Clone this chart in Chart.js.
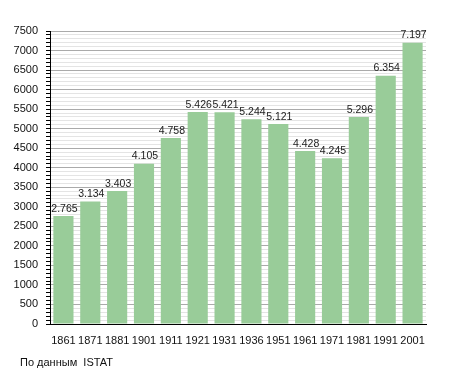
<!DOCTYPE html>
<html>
<head>
<meta charset="utf-8">
<script src="https://cdn.jsdelivr.net/npm/chart.js@4/dist/chart.umd.min.js"></script>
<style>
  body { margin: 0; background: #fff; }
  #wrap { position: relative; width: 455px; height: 373px; }
  #note { position: absolute; left: 20px; top: 356px; font: 11px "Liberation Sans", Arial, sans-serif; color: #111; }
</style>
</head>
<body>
<div id="wrap">
  <canvas id="popChart" width="455" height="373"></canvas>
  <div id="note">По данным&nbsp; ISTAT</div>
</div>
<script>
// Anni dei censimenti e abitanti
const years = ['1861', '1871', '1881', '1901', '1911', '1921', '1931', '1936', '1951', '1961', '1971', '1981', '1991', '2001'];
const population = [2765, 3134, 3403, 4105, 4758, 5426, 5421, 5244, 5121, 4428, 4245, 5296, 6354, 7197];
const yMax = 7500;
const yMajor = 500;

const fmt = (v) => String(v).replace(/\B(?=(\d{3})+(?!\d))/g, '.');

// etichette sopra le barre
const valueLabels = {
    id: 'valueLabels',
    afterDatasetsDraw(chart) {
        const ctx = chart.ctx;
        const meta = chart.getDatasetMeta(0);
        ctx.save();
        ctx.font = '10.5px "Liberation Sans", Arial, sans-serif';
        ctx.fillStyle = '#222';
        ctx.textAlign = 'center';
        ctx.textBaseline = 'bottom';
        meta.data.forEach((bar, i) => {
            ctx.fillText(fmt(population[i]), bar.x + 1, bar.y - 2);
        });
        ctx.restore();
    }
};

const ctx = document.getElementById('popChart').getContext('2d');
new Chart(ctx, {
    type: 'bar',
    data: {
        labels: years,
        datasets: [{ data: population, backgroundColor: '#99cc99', barPercentage: 0.75, categoryPercentage: 1 }]
    },
    options: {
        responsive: false,
        animation: false,
        layout: { padding: { top: 31, right: 29, left: 0, bottom: 29 } },
        plugins: { legend: { display: false }, tooltip: { enabled: false } },
        scales: {
            x: {
                grid: { display: false },
                border: { color: '#000', width: 1 },
                ticks: { color: '#111', font: { family: '"Liberation Sans", Arial, sans-serif', size: 11 }, padding: 2, maxRotation: 0, autoSkip: false },
                afterFit(scale) { scale.height = 20; }
            },
            y: {
                min: 0,
                max: yMax,
                border: { color: '#000', width: 1 },
                grid: {
                    color: (c) => (c.tick && c.tick.value % yMajor === 0) ? '#aaaaaa' : '#e4e4e4',
                    tickColor: '#000',
                    tickLength: 4
                },
                ticks: {
                    stepSize: 100,
                    autoSkip: false,
                    maxTicksLimit: 100,
                    color: '#111',
                    padding: 8,
                    font: { family: '"Liberation Sans", Arial, sans-serif', size: 11 },
                    callback: (v) => (v % yMajor === 0 ? String(v) : '')
                },
                afterFit(scale) { scale.width = 50; }
            }
        }
    },
    plugins: [valueLabels]
});
</script>
</body>
</html>
